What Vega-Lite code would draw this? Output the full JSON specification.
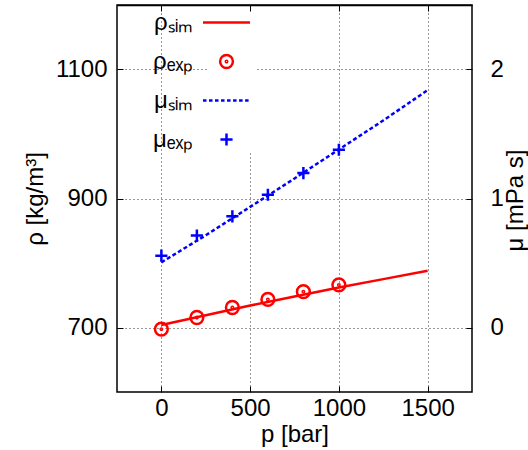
{
  "$schema": "https://vega.github.io/schema/vega-lite/v6.json",
  "width": 355,
  "height": 387,
  "autosize": {"type": "none"},
  "padding": {"left": 117, "top": 5, "right": 56, "bottom": 58},
  "background": "white",
  "config": {
    "font": "Liberation Sans",
    "view": {"stroke": "#000000", "strokeWidth": 1.5},
    "axis": {
      "domain": false,
      "tickSize": -6,
      "tickColor": "#000000",
      "tickWidth": 1,
      "labelFontSize": 24,
      "labelColor": "#000000",
      "titleFontSize": 24,
      "titleFontWeight": "normal",
      "titleColor": "#000000",
      "gridColor": "#000000",
      "gridDash": [1, 3],
      "gridWidth": 1,
      "gridOpacity": 0.8,
      "format": "d"
    }
  },
  "datasets": {
    "rho_sim": [
      {"series": "rho_sim", "p": 0, "rho": 704},
      {"series": "rho_sim", "p": 250, "rho": 719},
      {"series": "rho_sim", "p": 500, "rho": 734},
      {"series": "rho_sim", "p": 750, "rho": 748},
      {"series": "rho_sim", "p": 1000, "rho": 762},
      {"series": "rho_sim", "p": 1250, "rho": 775},
      {"series": "rho_sim", "p": 1500, "rho": 788}
    ],
    "rho_exp": [
      {"series": "rho_exp", "p": 0, "rho": 697.5},
      {"series": "rho_exp", "p": 200, "rho": 715.5},
      {"series": "rho_exp", "p": 400, "rho": 731},
      {"series": "rho_exp", "p": 600, "rho": 743.5},
      {"series": "rho_exp", "p": 800, "rho": 755.5},
      {"series": "rho_exp", "p": 1000, "rho": 766}
    ],
    "mu_sim": [
      {"series": "mu_sim", "p": 0, "mu": 0.505},
      {"series": "mu_sim", "p": 250, "mu": 0.715},
      {"series": "mu_sim", "p": 500, "mu": 0.935},
      {"series": "mu_sim", "p": 750, "mu": 1.155},
      {"series": "mu_sim", "p": 1000, "mu": 1.38},
      {"series": "mu_sim", "p": 1250, "mu": 1.605},
      {"series": "mu_sim", "p": 1500, "mu": 1.84}
    ],
    "mu_exp": [
      {"series": "mu_exp", "p": 0, "mu": 0.557},
      {"series": "mu_exp", "p": 200, "mu": 0.7125},
      {"series": "mu_exp", "p": 400, "mu": 0.862},
      {"series": "mu_exp", "p": 600, "mu": 1.029},
      {"series": "mu_exp", "p": 800, "mu": 1.197},
      {"series": "mu_exp", "p": 1000, "mu": 1.378}
    ]
  },
  "layer": [
    {
      "encoding": {
        "x": {
          "field": "p", "type": "quantitative",
          "scale": {"domain": [-250, 1750], "nice": false, "zero": false},
          "axis": {
            "orient": "bottom", "values": [0, 500, 1000, 1500], "grid": true,
            "labelPadding": 10, "title": "p [bar]",
            "titleBaseline": "alphabetic", "titleY": 49
          }
        },
        "y": {
          "field": "rho", "type": "quantitative",
          "scale": {"domain": [600, 1200], "nice": false, "zero": false},
          "axis": {
            "orient": "left", "values": [700, 900, 1100], "grid": true,
            "labelPadding": 16, "title": "ρ [kg/m³]",
            "titleAngle": 270, "titleBaseline": "middle", "titleX": -82, "titleY": 193.5
          }
        }
      },
      "layer": [
        {
          "data": {"name": "rho_sim"},
          "mark": {"type": "line", "strokeWidth": 2.5},
          "encoding": {
            "color": {"field": "series", "type": "nominal",
              "scale": {"domain": ["rho_sim", "rho_exp", "mu_sim", "mu_exp"], "range": ["#ff0000", "#ff0000", "#0000ff", "#0000ff"]}}
          }
        },
        {
          "data": {"name": "rho_exp"},
          "mark": {"type": "point", "filled": false, "strokeWidth": 2.5, "size": 1024, "opacity": 1},
          "encoding": {
            "color": {"field": "series", "type": "nominal"},
            "shape": {"field": "series", "type": "nominal",
              "scale": {"domain": ["rho_sim", "rho_exp", "mu_sim", "mu_exp"],
                "range": [
                  "M-1.47,0L1.47,0",
                  "M-0.4,0A0.4,0.4 0 1,0 0.4,0A0.4,0.4 0 1,0 -0.4,0ZM-0.045,0A0.045,0.045 0 1,0 0.045,0A0.045,0.045 0 1,0 -0.045,0Z",
                  "M-1.47,0L-1.25,0M-1.094,0L-0.874,0M-0.718,0L-0.498,0M-0.342,0L-0.122,0M0.034,0L0.254,0M0.41,0L0.63,0M0.786,0L1.006,0M1.162,0L1.382,0",
                  "M-0.38,0L0.38,0M0,-0.38L0,0.38"
                ]},
              "legend": {
                "orient": "none", "legendX": 92, "legendY": 0,
                "title": null, "fillColor": "white", "padding": 0, "zindex": 0,
                "labelAlign": "right", "labelOffset": -50.5, "labelFontSize": 24,
                "labelColor": "#000000",
                "symbolSize": 1024, "symbolStrokeWidth": 2.5, "rowPadding": 9,
                "labelExpr": "datum.label == 'rho_sim' ? 'ρₛᵢₘ' : datum.label == 'rho_exp' ? 'ρₑₓₚ' : datum.label == 'mu_sim' ? 'μₛᵢₘ' : 'μₑₓₚ'"
              }
            }
          }
        }
      ]
    },
    {
      "encoding": {
        "x": {
          "field": "p", "type": "quantitative",
          "scale": {"domain": [-250, 1750], "nice": false, "zero": false},
          "axis": {
            "orient": "top", "values": [0, 500, 1000, 1500], "grid": false,
            "labels": false, "title": null, "zindex": 2,
            "domain": true, "domainColor": "#000000", "domainWidth": 1.5
          }
        },
        "y": {
          "field": "mu", "type": "quantitative",
          "scale": {"domain": [-0.5, 2.5], "nice": false, "zero": false},
          "axis": {
            "orient": "right", "values": [0, 1, 2], "grid": false,
            "labelPadding": 24, "title": "μ [mPa s]",
            "titleAngle": 270, "titleBaseline": "middle", "titleX": 43, "titleY": 195
          }
        }
      },
      "layer": [
        {
          "data": {"name": "mu_sim"},
          "mark": {"type": "line", "strokeWidth": 2.5, "strokeDash": [4, 2.5]},
          "encoding": {
            "color": {"field": "series", "type": "nominal"}
          }
        },
        {
          "data": {"name": "mu_exp"},
          "mark": {"type": "point", "filled": false, "strokeWidth": 2.5, "size": 1024, "opacity": 1},
          "encoding": {
            "color": {"field": "series", "type": "nominal"},
            "shape": {"field": "series", "type": "nominal"}
          }
        }
      ]
    }
  ],
  "resolve": {"scale": {"x": "independent", "y": "independent"}}
}
